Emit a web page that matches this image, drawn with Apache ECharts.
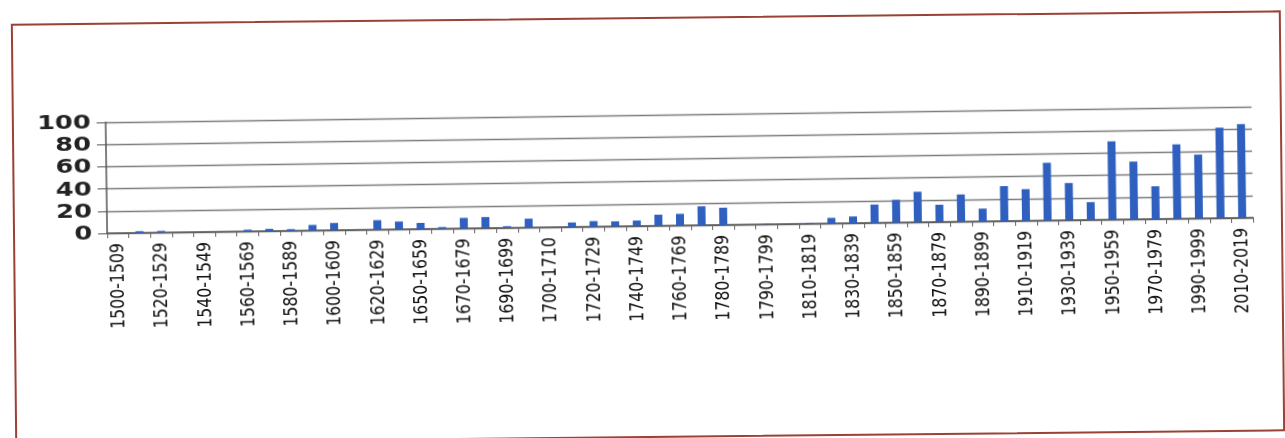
<!DOCTYPE html>
<html>
<head>
<meta charset="utf-8">
<script src="https://cdn.jsdelivr.net/npm/echarts@6/dist/echarts.min.js"></script>
<style>
html,body{margin:0;padding:0;background:#fff;width:1285px;height:438px;overflow:hidden;position:relative;}
#frame{position:absolute;left:13px;top:17px;width:1270px;height:421px;box-sizing:border-box;border:2px solid #9a4236;transform:rotate(-0.6deg);}
#chart{position:absolute;left:0;top:0;width:1285px;height:438px;transform:rotate(-0.78deg);}
</style>
</head>
<body>
<div id="frame"></div>
<div id="chart"></div>
<script>
// ---- data ----
const categories = [
  '1500-1509','1510-1519','1520-1529','1530-1539','1540-1549','1550-1559','1560-1569','1570-1579',
  '1580-1589','1590-1599','1600-1609','1610-1619','1620-1629','1630-1649','1650-1659','1660-1669',
  '1670-1679','1680-1689','1690-1699','1700-1709','1700-1710','1710-1719','1720-1729','1730-1739',
  '1740-1749','1750-1759','1760-1769','1770-1779','1780-1789','1780-1799','1790-1799','1800-1809',
  '1810-1819','1820-1829','1830-1839','1840-1849','1850-1859','1860-1869','1870-1879','1880-1889',
  '1890-1899','1900-1909','1910-1919','1920-1929','1930-1939','1940-1949','1950-1959','1960-1969',
  '1970-1979','1980-1989','1990-1999','2000-2009','2010-2019'
];
const values = [
  0, 1.5, 1.5, 0, 0, 0, 1.5, 2,
  1.5, 5, 6.5, 0, 8.5, 7, 5.5, 1.5,
  9.5, 10, 1.5, 8, 0, 4, 5, 4.5,
  5, 10, 10.5, 17, 15.5, 0, 0.5, 0,
  0.5, 5, 6, 16.5, 20.5, 27.5, 15.5, 24.5,
  11.5, 31.5, 28.5, 52, 33.5, 16, 70.5, 52,
  29.5, 67, 57.5, 81.5, 84.5
];
const yTicks = [0, 20, 40, 60, 80, 100];

// ---- font choice for category labels ----
function hasFont(name){
  const c = document.createElement('canvas').getContext('2d');
  const t = '1500-1509 abcdefghijklmWMil';
  c.font = '40px monospace';
  const w1 = c.measureText(t).width;
  c.font = '40px "' + name + '", monospace';
  const w2 = c.measureText(t).width;
  return Math.abs(w1 - w2) > 0.5;
}
const narrow = hasFont('Liberation Sans Narrow');
const xFamily = narrow ? 'Liberation Sans Narrow' : 'DejaVu Sans Condensed';
let xSize = 18;
(function(){
  const c = document.createElement('canvas').getContext('2d');
  c.font = '20px "' + xFamily + '", sans-serif';
  const w = c.measureText('1500-1509').width;
  xSize = Math.round(20 * 87 / w * 2) / 2;
})();
const xThick = narrow ? 1.0 : 1.15;

const chart = echarts.init(document.getElementById('chart'), null, {renderer: 'canvas'});
chart.setOption({
  animation: false,
  backgroundColor: 'transparent',
  grid: {left: 107, right: 32, top: 115, bottom: 212},
  xAxis: {
    type: 'category',
    data: categories,
    boundaryGap: true,
    axisLine: {show: true, lineStyle: {color: '#555', width: 1.5}},
    axisTick: {show: true, interval: 0, length: 5, lineStyle: {color: '#666', width: 1}},
    axisLabel: {show: false, interval: 1},
    splitLine: {show: false}
  },
  yAxis: {
    type: 'value',
    min: yTicks[0], max: yTicks[yTicks.length - 1], interval: 20,
    axisLine: {show: true, lineStyle: {color: '#555', width: 1.5}},
    axisTick: {show: true, length: 9, lineStyle: {color: '#555', width: 1}},
    splitLine: {show: true, lineStyle: {color: '#7d7d7d', width: 1.3}},
    axisLabel: {show: false}
  },
  series: [{
    type: 'bar',
    data: values,
    barWidth: 8,
    itemStyle: {color: '#2f60c0'}
  }]
});

// tick labels placed through the axis scales (text widened like the scanned original)
const els = [];
const labelRight = 92;
yTicks.forEach(function(v){
  const py = chart.convertToPixel({yAxisIndex: 0}, v);
  els.push({
    type: 'text', silent: true,
    x: labelRight, y: py + 1,
    scaleX: 1.35,
    style: {text: String(v), font: 'bold 19px "DejaVu Sans"', fill: '#222', align: 'right', verticalAlign: 'middle'}
  });
});
const axisY = chart.convertToPixel({yAxisIndex: 0}, 0);
categories.forEach(function(cat, i){
  if (i % 2 !== 0) return;
  const px = chart.convertToPixel({xAxisIndex: 0}, i);
  els.push({
    type: 'text', silent: true,
    x: px, y: axisY + 10,
    rotation: Math.PI / 2,
    scaleY: xThick,
    style: {text: cat, font: xSize + 'px "' + xFamily + '"', fill: '#111', align: 'right', verticalAlign: 'middle'}
  });
});
chart.setOption({graphic: {elements: els}});
</script>
</body>
</html>
